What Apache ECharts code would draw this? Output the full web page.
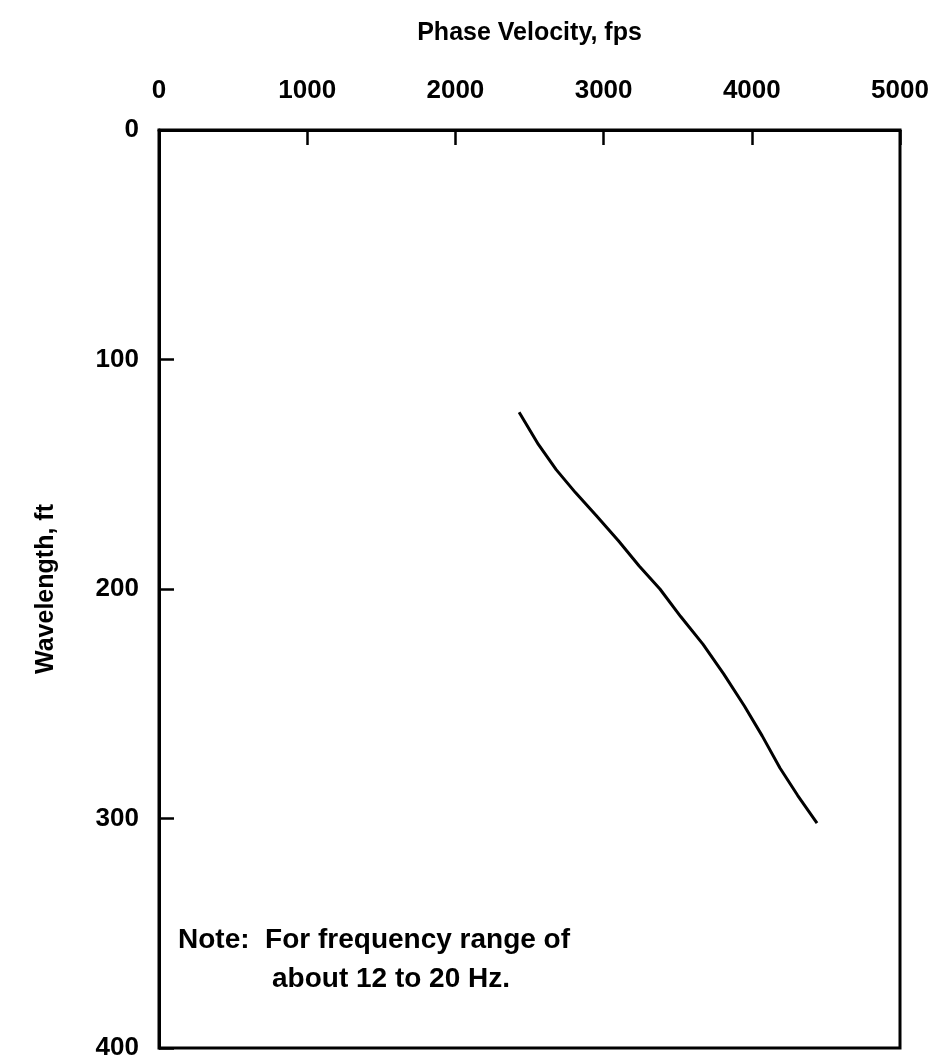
<!DOCTYPE html>
<html>
<head>
<meta charset="utf-8">
<script src="https://cdn.jsdelivr.net/npm/echarts@6/dist/echarts.min.js"></script>
<style>
  html, body { margin: 0; padding: 0; background: #fff; }
  #chart { width: 945px; height: 1061px; }
</style>
</head>
<body>
<div id="chart"></div>
<script>
// phase velocity (fps) vs wavelength (ft)
const velocity = [2430, 2560, 2680, 2810, 2950, 3100, 3240, 3380, 3520, 3670, 3810, 3950, 4070, 4190, 4310, 4440]
const wavelength = [123, 137, 148, 158, 168, 179, 190, 200, 212, 224, 237, 251, 264, 278, 290, 302]
const noteLines = ['Note:  For frequency range of', 'about 12 to 20 Hz.']

const chart = echarts.init(document.getElementById('chart'))
const font = 'Liberation Sans, Arial, sans-serif'

chart.setOption({
  animation: false,
  backgroundColor: '#fff',
  grid: {
    left: 159, right: 45, top: 130, bottom: 12,
    show: true, borderColor: '#000', borderWidth: 3
  },
  xAxis: {
    type: 'value',
    position: 'top',
    min: 0, max: 5000, interval: 1000,
    name: 'Phase Velocity, fps',
    nameLocation: 'middle',
    nameGap: 84,
    nameTextStyle: { color: '#000', fontSize: 25, fontWeight: 'bold', fontFamily: font },
    axisLine: { lineStyle: { color: '#000', width: 3 } },
    axisTick: { inside: true, length: 15, lineStyle: { color: '#000', width: 2.5 } },
    axisLabel: {
      color: '#000', fontSize: 26, fontWeight: 'bold', fontFamily: font, margin: 26,
      formatter: v => String(v)
    },
    splitLine: { show: false }
  },
  yAxis: {
    type: 'value',
    inverse: true,
    min: 0, max: 400, interval: 100,
    name: 'Wavelength, ft',
    nameLocation: 'middle',
    nameGap: 100,
    nameTextStyle: { color: '#000', fontSize: 25, fontWeight: 'bold', fontFamily: font },
    axisLine: { lineStyle: { color: '#000', width: 3 } },
    axisTick: { inside: true, length: 15, lineStyle: { color: '#000', width: 2.5 } },
    axisLabel: {
      color: '#000', fontSize: 26, fontWeight: 'bold', fontFamily: font, margin: 20,
      formatter: v => String(v)
    },
    splitLine: { show: false }
  },
  graphic: [{
    type: 'text',
    left: 178, top: 926,
    style: { text: noteLines[0], fill: '#000', font: 'bold 28px ' + font }
  }, {
    type: 'text',
    left: 272, top: 965,
    style: { text: noteLines[1], fill: '#000', font: 'bold 28px ' + font }
  }],
  series: [{
    type: 'line',
    data: velocity.map((v, i) => [v, wavelength[i]]),
    showSymbol: false,
    smooth: false,
    lineStyle: { color: '#000', width: 3 }
  }]
})
</script>
</body>
</html>
